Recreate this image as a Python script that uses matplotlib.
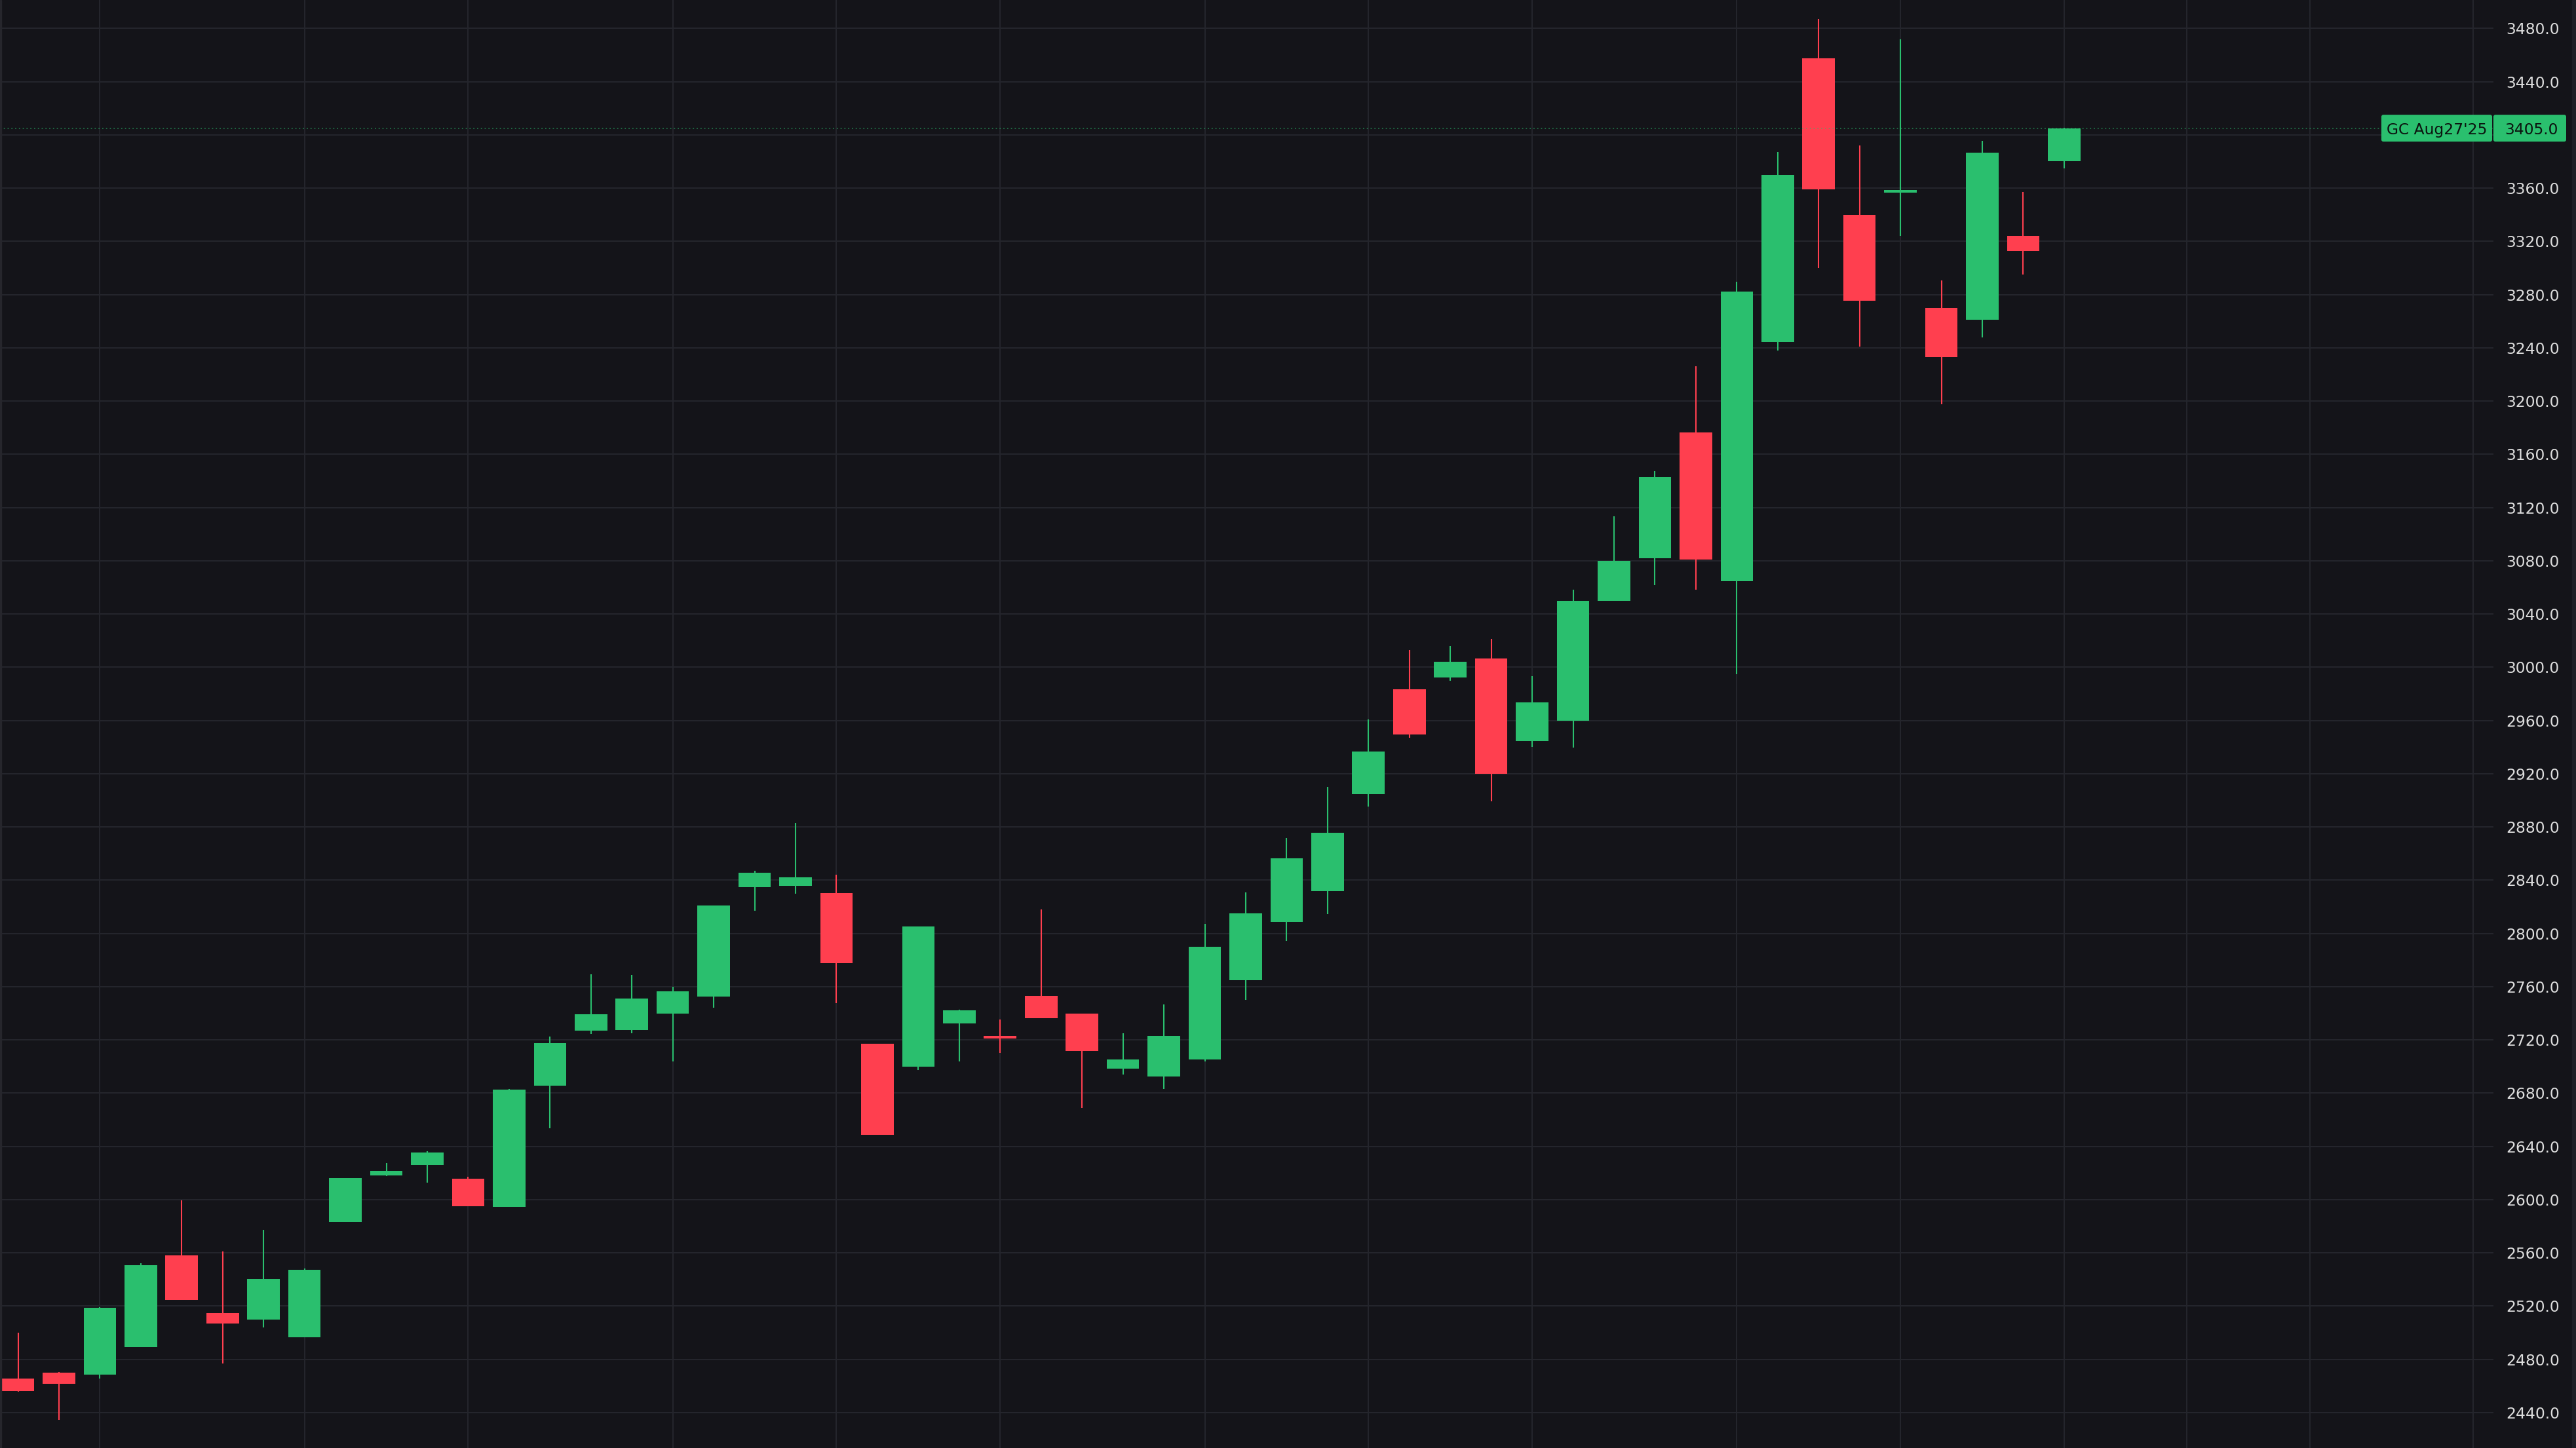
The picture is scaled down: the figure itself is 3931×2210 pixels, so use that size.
import matplotlib
matplotlib.use("Agg")
import matplotlib.pyplot as plt
import numpy as np
from matplotlib.patches import FancyBboxPatch, Rectangle
from matplotlib.transforms import IdentityTransform

# weekly OHLC, GC Aug'25
opens = [2465.5, 2470, 2468.5, 2489, 2558, 2515, 2510, 2496.5, 2583, 2618,
         2626, 2615.5, 2594.5, 2685.5, 2727, 2727.5, 2740, 2752.5, 2835, 2836,
         2830.5, 2717, 2700, 2732.5, 2723, 2753, 2740, 2698.5, 2692.5, 2705.5,
         2765, 2808.5, 2832, 2904.5, 2983.5, 2992.5, 3006.5, 2944.5, 2960, 3050,
         3082, 3176.5, 3064.5, 3244.5, 3457.5, 3340, 3356.5, 3270, 3261, 3324,
         3380]
highs = [2500, 2470.5, 2519, 2552, 2599.5, 2561, 2577.5, 2548.5, 2616, 2627.5,
         2636.5, 2617, 2683, 2722.5, 2769.5, 2769, 2760, 2821, 2847, 2883,
         2844, 2717, 2805, 2742.5, 2735.5, 2818, 2740, 2725, 2746.5, 2807,
         2831, 2871.5, 2910, 2961, 3013, 3016, 3021.5, 2993.5, 3058.5, 3113.5,
         3147.5, 3226, 3289.5, 3387, 3487, 3392, 3472, 3290.5, 3395.5, 3357,
         3405.5]
lows = [2455.5, 2434.5, 2465.5, 2489, 2524.5, 2477, 2504, 2496.5, 2583, 2617.5,
        2613, 2595, 2594.5, 2653.5, 2724.5, 2725, 2704, 2744, 2817, 2830,
        2747.5, 2648.5, 2697.5, 2704, 2710, 2736.5, 2669, 2694, 2683, 2704,
        2750, 2794.5, 2814.5, 2895.5, 2947, 2990, 2899.5, 2940, 2939.5, 3050,
        3061.5, 3058.5, 2995, 3238, 3300, 3241, 3324, 3197.5, 3248, 3295,
        3375]
closes = [2456, 2461.5, 2518.5, 2550.5, 2524.5, 2507, 2540.5, 2547.5, 2616, 2621.5,
          2635.5, 2595, 2682.5, 2717.5, 2739.5, 2751, 2756.5, 2821, 2845.5, 2842,
          2777.5, 2648.5, 2805, 2742, 2721, 2736.5, 2711.5, 2705.5, 2723, 2790,
          2815, 2856.5, 2875.5, 2936.5, 2949.5, 3004, 2920, 2973.5, 3050, 3080,
          3143, 3081, 3282, 3370, 3359, 3275.5, 3358.5, 3233, 3386.5, 3313,
          3405]

# bars where a new month starts (time grid), incl. future area
month_bars = [2, 7, 11, 16, 20, 24, 29, 33, 37, 42, 46, 50, 53, 56, 60]
price_ticks = list(range(2440, 3481, 40))
symbol_label = "GC Aug27'25"

BG = "#141419"
GRID = "#24252c"
UP = "#2abf6e"
DOWN = "#ff3f4f"
TEXT = "#dedede"

W, H, DPI = 3931, 2210, 100
fig = plt.figure(figsize=(W / DPI, H / DPI), dpi=DPI, facecolor=BG)
pane_w = 3805
ax = fig.add_axes([0, 0, pane_w / W, 1])
ax.set_facecolor(BG)

x = np.arange(len(opens))
o = np.array(opens)
c = np.array(closes)
colors = [UP if cc >= oo else DOWN for oo, cc in zip(o, c)]

ax.vlines(x, lows, highs, colors=colors, linewidth=1.5, zorder=3)
ax.bar(x, np.maximum(np.abs(c - o), 1.0), bottom=np.minimum(o, c), width=0.795,
       color=colors, linewidth=0, zorder=4)

ax.set_xlim(-0.4404, 60.49)
ax.set_ylim(2413.4, 3501.3)

# last price line
ax.axhline(closes[-1], color=UP, linestyle=(0, (1, 2.2)), linewidth=1.3,
           alpha=0.55, zorder=6)

ax.set_xticks(month_bars)
ax.set_yticks(price_ticks)
ax.set_yticklabels(["" if p == 3400 else f"{p:.1f}" for p in price_ticks])
ax.yaxis.tick_right()
ax.tick_params(axis="y", length=0, pad=13.5, labelsize=16.8, labelcolor=TEXT)
ax.tick_params(axis="x", length=0, labelbottom=False)
ax.grid(True, color=GRID, linewidth=1.5)
ax.set_axisbelow(True)
for s in ax.spines.values():
    s.set_visible(False)

# thin borders at the very edges
fig.add_artist(Rectangle((0, 0), 2 / W, 1, transform=fig.transFigure,
                         color="#26262c", zorder=1))
fig.add_artist(Rectangle((3925 / W, 0), 6 / W, 1, transform=fig.transFigure,
                         color="#1f1f25", zorder=1))

# price label on the scale
fig.canvas.draw()
y_pix = ax.transData.transform((0, closes[-1]))[1]
box_h = 41
for x0, x1 in [(3634, 3803), (3805, 3916)]:
    fig.add_artist(FancyBboxPatch((x0 + 3, y_pix - box_h / 2 + 3), x1 - x0 - 6, box_h - 6,
                                  boxstyle="round,pad=3", transform=IdentityTransform(),
                                  facecolor=UP, edgecolor="none", zorder=10))
fig.text((3634 + 3803) / 2, y_pix, symbol_label, transform=IdentityTransform(),
         ha="center", va="center_baseline", fontsize=16.8, color="#0b140f", zorder=11)
fig.text(3904, y_pix, f"{closes[-1]:.1f}", transform=IdentityTransform(),
         ha="right", va="center_baseline", fontsize=16.8, color="#0b140f", zorder=11)

fig.savefig("out.png", dpi=DPI, facecolor=BG)
